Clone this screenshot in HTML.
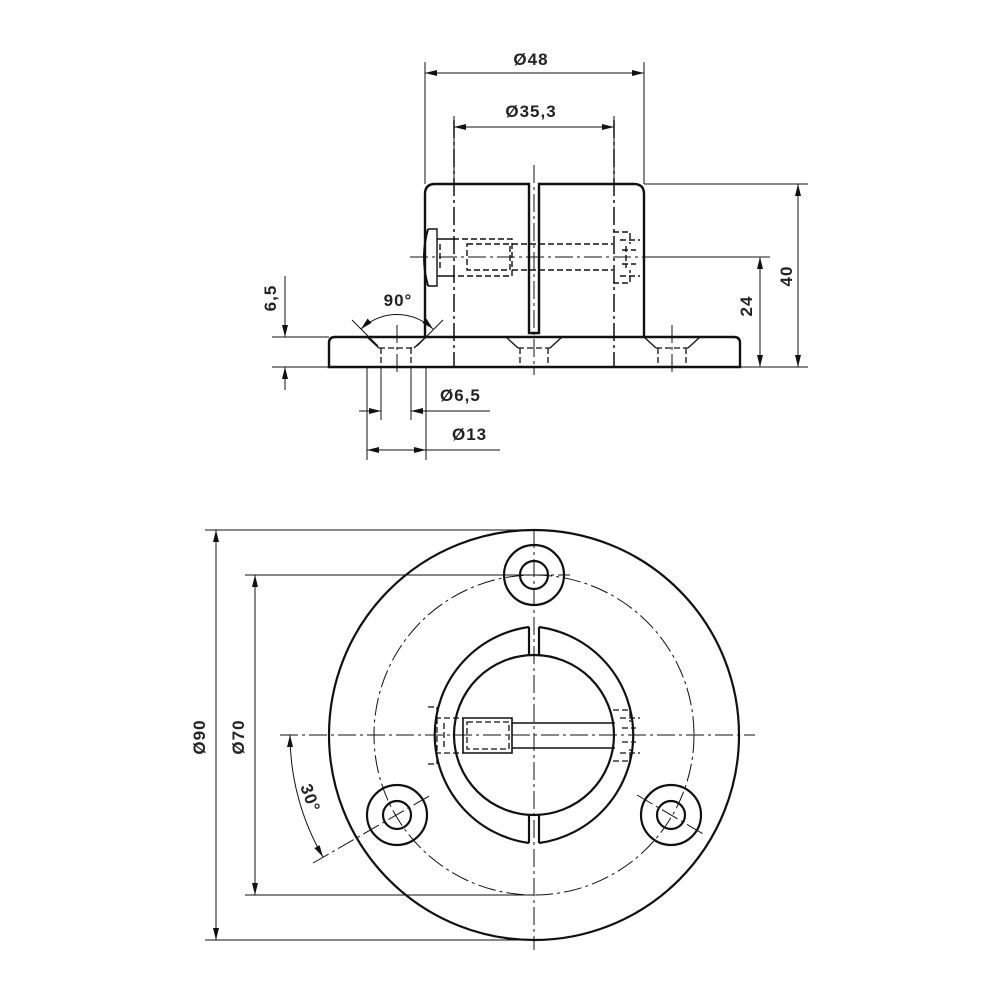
<!DOCTYPE html>
<html><head><style>html,body{margin:0;padding:0;background:#fff}svg{display:block}</style></head><body>
<svg width="1000" height="1000" viewBox="0 0 1000 1000" xmlns="http://www.w3.org/2000/svg" font-family="Liberation Sans, sans-serif">
<defs>
<marker id="a" viewBox="0 0 12 6" refX="12" refY="3" markerWidth="12" markerHeight="6" orient="auto-start-reverse" markerUnits="userSpaceOnUse"><path d="M0,0L12,3L0,6z" fill="#111"/></marker>
</defs>
<g fill="none" stroke="#111">
<g stroke-width="2.4">
<path d="M425,337 V194 Q425,184 435,184 H529 V333 H539 V184 H634 Q644,184 644,194 V337"/>
<path d="M335,337 H734 Q740,337 740,343 V367 H329 V343 Q329,337 335,337Z"/>
</g>
<g stroke-width="1.3">
<path d="M367,337 L379,348 M426,337 L414,348 M506,337 L518,348 M562,337 L550,348 M644,337 L656,348 M700,337 L688,348"/>
<path d="M379,348 H414 M518,348 H550 M656,348 H688" stroke-dasharray="6 3"/>
<path d="M381,348 V367 M411,348 V367 M520,348 V367 M548,348 V367 M658,348 V367 M686,348 V367" stroke-dasharray="6 3"/>
</g>
<g stroke-width="1.5" stroke-dasharray="18 4 3 4">
<path d="M454,120 V367 M614,120 V367"/>
<path d="M534,165 V375" stroke-width="1"/>
<path d="M397,325 V375 M672,325 V375" stroke-width="1"/>
<path d="M410,257 H644" stroke-width="1"/>
</g>
<g stroke-width="1.4">
<path d="M428,229 H437 V239 H453 M428,286 H437 V276 H453 M437,239 V276"/>
<path d="M428,229 Q420,257 428,286" stroke-width="2"/>
<path d="M453,239 H512 V276 H453 M467,244 H510 V270 H467 Z M440,244 V270 M512,244 H613 M512,270 H613 M613,232 H630 V244 M613,283 H630 V270 M620,240 H640 M620,276 H640 M622,250 H636 M622,264 H636 M626,246 V268" stroke-dasharray="6 3"/>
</g>
<g stroke-width="1">
<path d="M425,62 V184 M644,62 V184 M454,116 V184 M614,116 V184"/>
<path d="M425,73 H644" marker-start="url(#a)" marker-end="url(#a)"/>
<path d="M454,127 H614" marker-start="url(#a)" marker-end="url(#a)"/>
<path d="M644,184 H808 M740,367 H808 M644,257 H770"/>
<path d="M798,184 V367" marker-start="url(#a)" marker-end="url(#a)"/>
<path d="M760,257 V367" marker-start="url(#a)" marker-end="url(#a)"/>
<path d="M272,337 H329 M272,367 H329"/>
<path d="M285,276 V337" marker-end="url(#a)"/>
<path d="M285,390 V367" marker-end="url(#a)"/>
<path d="M367,367 V460 M426,367 V460 M381,367 V420 M411,367 V420"/>
<path d="M359,411 H381" marker-end="url(#a)"/>
<path d="M490,411 H411" marker-end="url(#a)"/>
<path d="M367,450 H426" marker-start="url(#a)" marker-end="url(#a)"/>
<path d="M426,450 H500"/>
<path d="M352,320 L378,346 M443,320 L417,346"/>
<path d="M361,329 A52,52 0 0 1 433,329" marker-start="url(#a)" marker-end="url(#a)"/>
</g>
<g stroke-width="2.2">
<circle cx="534" cy="735" r="205"/>
<circle cx="534" cy="575" r="30"/><circle cx="534" cy="575" r="14"/>
<circle cx="397" cy="815" r="30"/><circle cx="397" cy="815" r="14"/>
<circle cx="671" cy="815" r="30"/><circle cx="671" cy="815" r="14"/>
<path d="M529,627 A109,109 0 0 0 529,843 M539,627 A109,109 0 0 1 539,843"/>
<circle cx="534" cy="735" r="80"/>
<path d="M529,627 V655 M539,627 V655 M529,815 V843 M539,815 V843"/>
</g>
<circle cx="534" cy="735" r="160" stroke-width="1" stroke-dasharray="18 4 3 4"/>
<g stroke-width="1" stroke-dasharray="18 4 3 4">
<path d="M534,530 V950 M280,735 H755"/>
<path d="M313,863 L431,795 M637,795 L705,835"/>
<path d="M500,575 H570"/>
</g>
<g stroke-width="1.6">
<path d="M463,718 H512 V753 H463 Z M512,723 H615 M512,748 H615"/>
</g>
<g stroke-width="1.3" stroke-dasharray="6 3">
<path d="M428,707 H437 V718 H463 M428,764 H437 V753 H463 M437,718 V753 M467,722 H509 V749 H467 Z M444,723 V748 M613,710 H630 V722 M613,761 H630 V749 M620,718 H640 M620,753 H640 M622,728 H636 M622,742 H636"/>
</g>
<g stroke-width="1">
<path d="M205,530 H534 M205,940 H534 M245,575 H534 M245,895 H534"/>
<path d="M216,530 V940" marker-start="url(#a)" marker-end="url(#a)"/>
<path d="M255,575 V895" marker-start="url(#a)" marker-end="url(#a)"/>
<path d="M290,735 A244,244 0 0 0 323,857" marker-start="url(#a)" marker-end="url(#a)"/>
</g>
</g>
<g fill="#222" font-size="17" font-weight="bold" letter-spacing="1">
<text x="531" y="65" text-anchor="middle">Ø48</text>
<text x="531" y="117" text-anchor="middle">Ø35,3</text>
<text x="398" y="306" text-anchor="middle">90°</text>
<text x="440" y="401">Ø6,5</text>
<text x="452" y="440">Ø13</text>
<text transform="translate(792,276) rotate(-90)" text-anchor="middle">40</text>
<text transform="translate(752,306) rotate(-90)" text-anchor="middle">24</text>
<text transform="translate(276,298) rotate(-90)" text-anchor="middle">6,5</text>
<text transform="translate(205,737) rotate(-90)" text-anchor="middle">Ø90</text>
<text transform="translate(244,737) rotate(-90)" text-anchor="middle">Ø70</text>
<text transform="translate(305,800) rotate(70)" text-anchor="middle">30°</text>
</g>
</svg>
</body></html>
